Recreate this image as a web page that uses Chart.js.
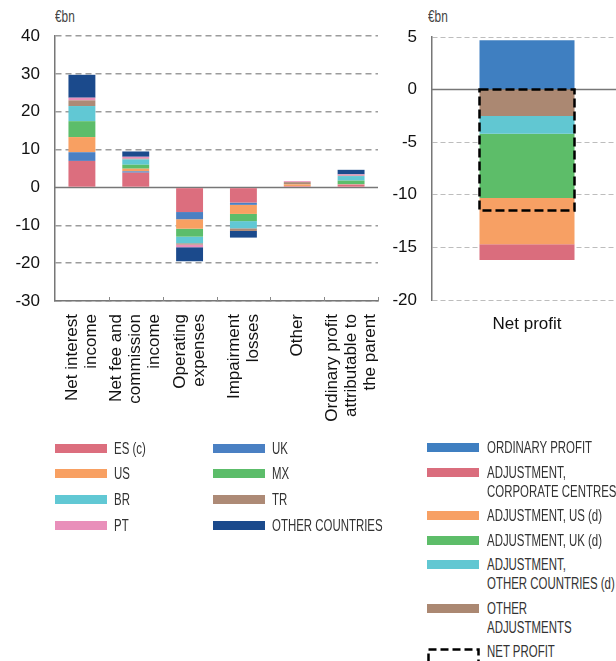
<!DOCTYPE html>
<html>
<head>
<meta charset="utf-8">
<script src="https://cdn.jsdelivr.net/npm/chart.js@4.4.1/dist/chart.umd.min.js"></script>
<style>
  html, body { margin: 0; padding: 0; background: #fff; }
  body { position: relative; width: 616px; height: 661px; overflow: hidden; font-family: "Liberation Sans", Arial, sans-serif; }
  .box { position: absolute; }
  .unit { position: absolute; font-family: "Liberation Sans", Arial, sans-serif; font-size: 16px; color: #444; transform: scaleX(0.74); transform-origin: 0 0; }
  .lg { position: absolute; font-family: "Liberation Sans", Arial, sans-serif; font-size: 16px; line-height: 19px; color: #333; white-space: nowrap; transform: scaleX(0.715); transform-origin: 0 0; }
  .sw { position: absolute; width: 52px; height: 9px; }
</style>
</head>
<body>
<div class="unit" style="left:55px;top:8px;">€bn</div>
<div class="unit" style="left:428px;top:8px;">€bn</div>
<div class="box" style="left:0;top:0;width:390px;height:440px;"><canvas id="byItem"></canvas></div>
<div class="box" style="left:385px;top:0;width:245px;height:340px;"><canvas id="netProfit"></canvas></div>
<div id="legendLeft"></div>
<div id="legendRight"></div>
<script>
// income statement items, contribution by country (€bn)
var itemLabels = [
  ['Net interest', 'income'],
  ['Net fee and', 'commission', 'income'],
  ['Operating', 'expenses'],
  ['Impairment', 'losses'],
  ['Other'],
  ['Ordinary profit', 'attributable to', 'the parent']
];
var countryNames = ['ES (c)', 'UK', 'US', 'MX', 'BR', 'TR', 'PT', 'OTHER COUNTRIES'];
var countryColors = ['#dc6e7e', '#4a80c3', '#f8a062', '#5cbd6a', '#61c8d4', '#ad8a76', '#e98fba', '#1b4a8c'];
var esValues    = [7.0, 3.9, -6.5, -4.0, 0.35, 0.7];
var ukValues    = [2.3, 0.35, -1.9, -0.6, 0, 0.05];
var usValues    = [4.0, 0.7, -2.5, -2.4, 0.45, 0.15];
var mxValues    = [4.2, 1.05, -2.1, -1.9, 0, 0.9];
var brValues    = [4.0, 1.4, -1.75, -1.9, 0, 1.2];
var trValues    = [1.5, 0.2, -0.35, -0.7, 0.6, 0.1];
var ptValues    = [0.7, 0.5, -0.7, 0, 0.25, 0.35];
var otherValues = [6.05, 1.4, -3.7, -1.75, 0, 1.2];
var countryValues = [esValues, ukValues, usValues, mxValues, brValues, trValues, ptValues, otherValues];

// from ordinary profit to net profit (€bn)
var bridgeLabels = ['Net profit'];
var bridgeNames = ['ORDINARY PROFIT', 'OTHER ADJUSTMENTS', 'ADJUSTMENT, OTHER COUNTRIES (d)', 'ADJUSTMENT, UK (d)', 'ADJUSTMENT, US (d)', 'ADJUSTMENT, CORPORATE CENTRES'];
var bridgeColors = ['#3f7fc1', '#ab8872', '#61c7d2', '#5dbd69', '#f7a064', '#da6d7d'];
var ordinaryProfit = [4.7];
var otherAdjustments = [-2.5];
var adjOtherCountries = [-1.7];
var adjUK = [-6.1];
var adjUS = [-4.4];
var adjCorporate = [-1.5];
var netProfit = [-11.5];
var bridgeValues = [ordinaryProfit, otherAdjustments, adjOtherCountries, adjUK, adjUS, adjCorporate];

Chart.defaults.font.family = '"Liberation Sans", Arial, sans-serif';
Chart.defaults.color = '#111';

var zeroLine = {
  id: 'zeroLine',
  beforeDatasetsDraw: function(chart) {
    var a = chart.chartArea, ctx = chart.ctx;
    var y = chart.scales.y.getPixelForValue(0);
    ctx.save();
    ctx.strokeStyle = '#777';
    ctx.lineWidth = 1.5;
    ctx.beginPath();
    ctx.moveTo(a.left, y);
    ctx.lineTo(a.right, y);
    ctx.stroke();
    ctx.restore();
  }
};

// rotated multi-line category names, centred on each bar
var itemTicks = {
  id: 'itemTicks',
  afterDraw: function(chart) {
    var xs = chart.scales.x, a = chart.chartArea, ctx = chart.ctx;
    ctx.save();
    ctx.strokeStyle = '#888';
    ctx.lineWidth = 1;
    var step = xs.width / itemLabels.length;
    for (var k = 1; k <= itemLabels.length; k++) {
      var tx = Math.round(xs.left + k * step) + 0.5;
      ctx.beginPath();
      ctx.moveTo(tx, a.bottom);
      ctx.lineTo(tx, a.bottom - 4);
      ctx.stroke();
    }
    ctx.font = '17px "Liberation Sans", Arial, sans-serif';
    ctx.fillStyle = '#111';
    ctx.textAlign = 'right';
    ctx.textBaseline = 'middle';
    itemLabels.forEach(function(lines, i) {
      var cx = xs.getPixelForValue(i);
      lines.forEach(function(line, j) {
        var off = (j - (lines.length - 1) / 2) * 19;
        ctx.save();
        ctx.translate(cx + off, a.bottom + 13);
        ctx.rotate(-Math.PI / 2);
        ctx.fillText(line, 0, 0);
        ctx.restore();
      });
    });
    ctx.restore();
  }
};

var netOutline = {
  id: 'netOutline',
  afterDatasetsDraw: function(chart) {
    var bar = chart.getDatasetMeta(0).data[0];
    var ys = chart.scales.y, ctx = chart.ctx;
    var y0 = ys.getPixelForValue(0), y1 = ys.getPixelForValue(netProfit[0]);
    ctx.save();
    ctx.setLineDash([9, 4]);
    ctx.lineWidth = 2.5;
    ctx.strokeStyle = '#000';
    ctx.strokeRect(bar.x - bar.width / 2, y0, bar.width, y1 - y0);
    ctx.restore();
  }
};

new Chart(document.getElementById('byItem'), {
  type: 'bar',
  data: {
    labels: itemLabels,
    datasets: countryNames.map(function(n, i) {
      return { label: n, data: countryValues[i], backgroundColor: countryColors[i], borderWidth: 0, barPercentage: 0.5, categoryPercentage: 1 };
    })
  },
  options: {
    responsive: true,
    maintainAspectRatio: false,
    animation: false,
    layout: { padding: { top: 36, right: 12, bottom: 0, left: 0 } },
    plugins: { legend: { display: false }, tooltip: { enabled: false } },
    scales: {
      x: {
        stacked: true,
        grid: { display: false, drawTicks: false },
        border: { color: '#777', width: 1.5 },
        ticks: { display: false },
        afterFit: function(s) { s.height = 139; }
      },
      y: {
        stacked: true, min: -30, max: 40,
        ticks: { stepSize: 10, font: { size: 17 }, padding: 15, color: '#111' },
        grid: { color: function(c) { return c.tick && c.tick.value === 0 ? 'rgba(0,0,0,0)' : '#9c9c9c'; }, lineWidth: 1.5, drawTicks: false },
        border: { color: '#777', width: 1.5, dash: [6, 4] },
        afterFit: function(s) { s.width = 55; }
      }
    }
  },
  plugins: [zeroLine, itemTicks]
});

new Chart(document.getElementById('netProfit'), {
  type: 'bar',
  data: {
    labels: bridgeLabels,
    datasets: bridgeNames.map(function(n, i) {
      return { label: n, data: bridgeValues[i], backgroundColor: bridgeColors[i], borderWidth: 0, barPercentage: 0.5, categoryPercentage: 1 };
    })
  },
  options: {
    responsive: true,
    maintainAspectRatio: false,
    animation: false,
    layout: { padding: { top: 37, right: 8, bottom: 0, left: 0 } },
    plugins: { legend: { display: false }, tooltip: { enabled: false } },
    scales: {
      x: {
        stacked: true,
        grid: { display: false, drawTicks: false },
        border: { display: false },
        ticks: { font: { size: 17 }, padding: 14, color: '#111' },
        afterFit: function(s) { s.height = 40; }
      },
      y: {
        stacked: true, min: -20, max: 5,
        ticks: { stepSize: 5, font: { size: 17 }, padding: 15, color: '#111' },
        grid: { color: function(c) { return c.tick && c.tick.value === 0 ? 'rgba(0,0,0,0)' : '#bdbdbd'; }, lineWidth: 1, drawTicks: false },
        border: { color: '#777', width: 1.5, dash: [5, 3] },
        afterFit: function(s) { s.width = 47; }
      }
    }
  },
  plugins: [zeroLine, netOutline]
});

// legends
var legendLeft = document.getElementById('legendLeft');
countryNames.forEach(function(n, i) {
  var col = i % 2, row = Math.floor(i / 2);
  var cy = 448 + row * 25.8;
  var sx = col === 0 ? 55 : 213;
  legendLeft.insertAdjacentHTML('beforeend',
    '<div class="sw" style="left:' + sx + 'px;top:' + (cy - 4.5) + 'px;background:' + countryColors[i] + ';"></div>' +
    '<div class="lg" style="left:' + (sx + 59) + 'px;top:' + (cy - 9.5) + 'px;">' + n + '</div>');
});

var rightEntries = [
  { lines: ['ORDINARY PROFIT'], color: bridgeColors[0] },
  { lines: ['ADJUSTMENT,', 'CORPORATE CENTRES'], color: bridgeColors[5] },
  { lines: ['ADJUSTMENT, US (d)'], color: bridgeColors[4] },
  { lines: ['ADJUSTMENT, UK (d)'], color: bridgeColors[3] },
  { lines: ['ADJUSTMENT,', 'OTHER COUNTRIES (d)'], color: bridgeColors[2] },
  { lines: ['OTHER', 'ADJUSTMENTS'], color: bridgeColors[1] },
  { lines: ['NET PROFIT'], color: null }
];
var legendRight = document.getElementById('legendRight');
var rowY = 447.7;
rightEntries.forEach(function(e) {
  if (e.color) {
    legendRight.insertAdjacentHTML('beforeend', '<div class="sw" style="left:427px;top:' + (rowY - 4.5) + 'px;background:' + e.color + ';"></div>');
  } else {
    legendRight.insertAdjacentHTML('beforeend',
      '<svg style="position:absolute;left:427px;top:' + (rowY - 4) + 'px;" width="54" height="20">' +
      '<rect x="1.5" y="1.5" width="50" height="16" fill="none" stroke="#000" stroke-width="2.5" stroke-dasharray="8 4"/></svg>');
  }
  legendRight.insertAdjacentHTML('beforeend',
    '<div class="lg" style="left:487px;top:' + (rowY - 9.5) + 'px;">' + e.lines.join('<br>') + '</div>');
  rowY += e.lines.length * 19 + 5.5;
});
</script>
</body>
</html>
